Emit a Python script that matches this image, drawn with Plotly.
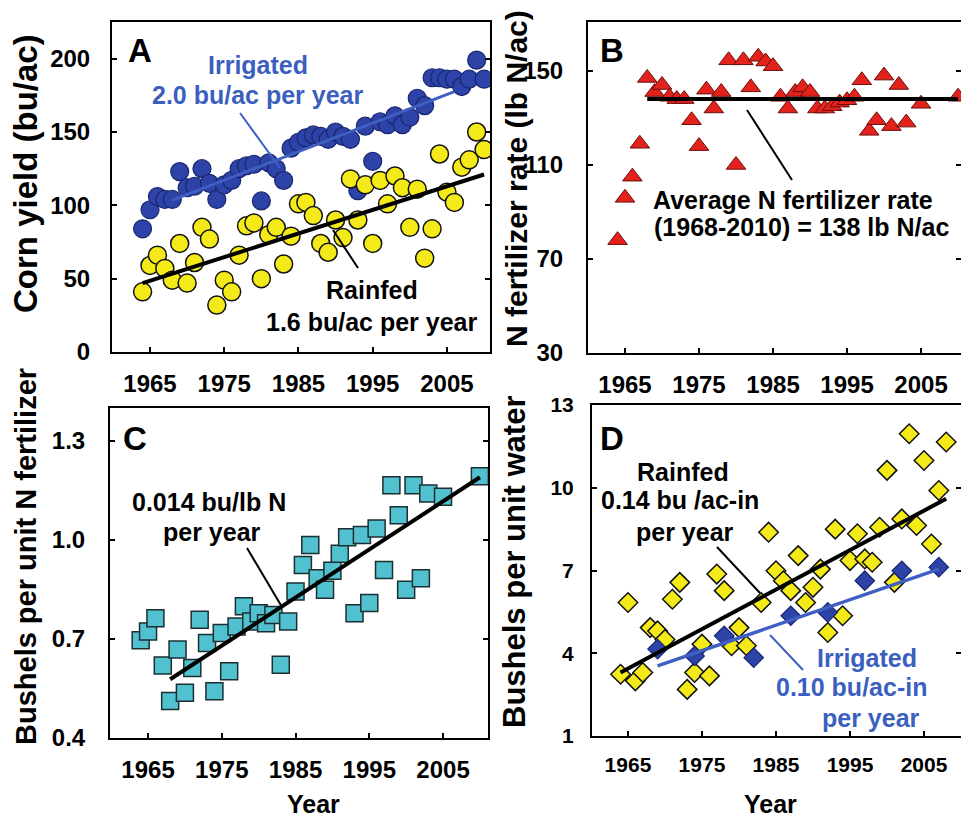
import plotly.graph_objects as go

W, H = 961, 820

# ---------------- data ----------------
years_a = list(range(1964, 2011))
irrigated_yield = [84, 97, 106, 104, 104, 123, 112, 113, 125, 115, 104, 114, 117, 125, 127, 128,
                   103, 129, 125, 117, 139, 143, 146, 148, 147, 145, 150, 147, 145, 110, 154, 130,
                   157, 155, 161, 155, 160, 173, 168, 187, 187, 186, 186, 181, 186, 199, 186]
rainfed_yield = [41, 59, 66, 57, 49, 74, 47, 61, 85, 77, 32, 49, 41, 66, 86, 88,
                 50, 80, 85, 60, 79, 101, 102, 93, 74, 68, 90, 78, 118, 90, 114, 74,
                 117, 101, 120, 112, 85, 111, 64, 84, 135, 109, 102, 126, 131, 150, 138]
irr_trend_years = [1968, 2006]
irr_trend_vals = [103.5, 177.5]
rain_trend_years = [1964, 2010]
rain_trend_vals = [47, 121]

years_bc = list(range(1964, 2004)) + [2005, 2010]
n_rate = [78, 96, 105, 119, 147, 141, 144, 139, 138, 138, 129, 118, 142, 134, 141, 154.5,
          110, 154.5, 143, 156, 154, 152, 139, 134, 141, 143, 141, 134, 134, 135, 136.5, 137.5,
          139, 146, 124.5, 129, 148, 126.5, 144, 128, 136, 139]
n_mean_years = [1968, 2010]
n_mean_vals = [138, 138]

bu_per_n = [0.696, 0.723, 0.763, 0.620, 0.512, 0.668, 0.537, 0.612, 0.758, 0.688, 0.542, 0.718,
            0.602, 0.738, 0.799, 0.753, 0.778, 0.748, 0.773, 0.622, 0.753, 0.844, 0.924, 0.985,
            0.884, 0.849, 0.907, 0.958, 1.008, 0.778, 1.015, 0.809, 1.035, 0.909, 1.166, 1.075,
            0.849, 1.166, 0.884, 1.141, 1.131, 1.193]
npe_trend_years = [1968, 2010]
npe_trend_vals = [0.578, 1.19]

years_d_rain = list(range(1964, 1982)) + list(range(1983, 2009))
wue_rainfed = [3.24, 5.84, 3.0, 3.3, 4.93, 4.81, 4.5, 5.96, 6.57, 2.69, 3.3, 4.33, 3.18, 6.87,
               6.27, 4.27, 4.93, 4.27,
               5.84, 8.39, 6.99, 6.63, 6.27, 7.54, 5.84, 6.39, 7.05, 4.75, 8.5, 5.36, 7.36, 8.33,
               7.42, 7.30, 8.57, 10.63, 6.57, 8.87, 11.96, 8.63, 10.99, 7.96, 9.9, 11.66]
years_d_irr = [1969, 1974, 1978, 1982, 1987, 1992, 1997, 2002, 2007]
wue_irrigated = [4.15, 3.9, 4.63, 3.84, 5.36, 5.48, 6.63, 6.99, 7.12]
wue_rain_trend_years = [1964, 2008]
wue_rain_trend_vals = [3.3, 9.6]
wue_irr_trend_years = [1969, 2007]
wue_irr_trend_vals = [3.54, 7.05]

year_ticks = [1965, 1975, 1985, 1995, 2005]

# ---------------- styles ----------------
FONT = "Liberation Sans, Arial, sans-serif"
BLUE = "#2d43a8"
BLUE_TXT = "#3b5fbf"
YELLOW = "#f4ea1a"
RED = "#e3221c"
CYAN = "#52c1cf"


def px(x):
    return x / W


def py(y):
    return 1 - y / H


fig = go.Figure()

# Panel A
fig.add_trace(go.Scatter(x=years_a, y=irrigated_yield, mode="markers", xaxis="x", yaxis="y",
                         marker=dict(size=18, color=BLUE, line=dict(color="#1a2670", width=1.2))))
fig.add_trace(go.Scatter(x=irr_trend_years, y=irr_trend_vals, mode="lines", xaxis="x", yaxis="y",
                         line=dict(color="#3f5fc2", width=3)))
fig.add_trace(go.Scatter(x=years_a, y=rainfed_yield, mode="markers", xaxis="x", yaxis="y",
                         marker=dict(size=18, color=YELLOW, line=dict(color="#111", width=1.5))))
fig.add_trace(go.Scatter(x=rain_trend_years, y=rain_trend_vals, mode="lines", xaxis="x", yaxis="y",
                         line=dict(color="black", width=4)))

# Panel B
fig.add_trace(go.Scatter(x=years_bc, y=n_rate, mode="markers", xaxis="x2", yaxis="y2",
                         marker=dict(symbol="triangle-up", size=17, color=RED,
                                     line=dict(color="#6b0e0e", width=1))))
fig.add_trace(go.Scatter(x=n_mean_years, y=n_mean_vals, mode="lines", xaxis="x2", yaxis="y2",
                         line=dict(color="black", width=4)))

# Panel C
fig.add_trace(go.Scatter(x=years_bc, y=bu_per_n, mode="markers", xaxis="x3", yaxis="y3",
                         marker=dict(symbol="square", size=17, color=CYAN,
                                     line=dict(color="#1b2f33", width=1.5))))
fig.add_trace(go.Scatter(x=npe_trend_years, y=npe_trend_vals, mode="lines", xaxis="x3", yaxis="y3",
                         line=dict(color="black", width=4)))

# Panel D
fig.add_trace(go.Scatter(x=years_d_rain, y=wue_rainfed, mode="markers", xaxis="x4", yaxis="y4",
                         marker=dict(symbol="diamond", size=15, color=YELLOW,
                                     line=dict(color="#111", width=1.5))))
fig.add_trace(go.Scatter(x=years_d_irr, y=wue_irrigated, mode="markers", xaxis="x4", yaxis="y4",
                         marker=dict(symbol="diamond", size=15, color=BLUE,
                                     line=dict(color="#1a2670", width=1.2))))
fig.add_trace(go.Scatter(x=wue_rain_trend_years, y=wue_rain_trend_vals, mode="lines", xaxis="x4",
                         yaxis="y4", line=dict(color="black", width=4)))
fig.add_trace(go.Scatter(x=wue_irr_trend_years, y=wue_irr_trend_vals, mode="lines", xaxis="x4",
                         yaxis="y4", line=dict(color="#3f5fc2", width=3.5)))


def xaxis(dom, rng, anchor, size=24, standoff=9):
    return dict(domain=[px(dom[0]), px(dom[1])], range=rng, anchor=anchor, automargin=False,
                tickvals=year_ticks, ticks="inside", ticklen=5, tickwidth=1.5, tickcolor="black",
                showline=True, linecolor="black", linewidth=2, mirror=True,
                showgrid=False, zeroline=False, ticklabelstandoff=standoff,
                tickfont=dict(family=FONT, size=size, color="black", weight="bold"))


def yaxis(dom, rng, anchor, tickvals, ticktext, size=24, standoff=15):
    return dict(domain=[py(dom[1]), py(dom[0])], range=rng, anchor=anchor, automargin=False,
                tickvals=tickvals, ticktext=ticktext, ticks="inside", ticklen=5, tickwidth=1.5,
                tickcolor="black", showline=True, linecolor="black", linewidth=2, mirror="ticks",
                showgrid=False, zeroline=False, ticklabelstandoff=standoff,
                tickfont=dict(family=FONT, size=size, color="black", weight="bold"))


a_yt = [0, 50, 100, 150, 200]
b_yt = [30, 70, 110, 150]
c_yt = [0.4, 0.7, 1.0, 1.3]
d_yt = [1, 4, 7, 10, 13]

fig.update_layout(
    width=W, height=H, margin=dict(l=0, r=0, t=0, b=0, pad=0, autoexpand=False),
    paper_bgcolor="white", plot_bgcolor="white", showlegend=False,
    xaxis=xaxis((112, 490), [1959.88, 2010.8], "y", standoff=9),
    yaxis=yaxis((22, 352), [0, 225], "x", a_yt, [str(v) for v in a_yt], standoff=15),
    xaxis2=xaxis((588, 961), [1960.0, 2010.4], "y2", standoff=9),
    yaxis2=yaxis((22, 353), [30, 170.8], "x2", b_yt, [str(v) for v in b_yt], standoff=18),
    xaxis3=xaxis((110, 488), [1959.84, 2011.1], "y3", standoff=9),
    yaxis3=yaxis((408, 738), [0.4, 1.4], "x3", c_yt, ["%.1f" % v for v in c_yt], standoff=18),
    xaxis4=xaxis((592, 961), [1960.14, 2010.0], "y4", size=21, standoff=9),
    yaxis4=yaxis((405, 736), [1, 13], "x4", d_yt, [str(v) for v in d_yt], size=21, standoff=12),
)

annotations = []


def txt(x, y, s, size=25, color="black", angle=0):
    annotations.append(dict(x=px(x), y=py(y), xref="paper", yref="paper", text=s,
                            showarrow=False, xanchor="center", yanchor="middle", textangle=angle,
                            borderpad=0,
                            font=dict(family=FONT, size=size, color=color, weight="bold")))


# panel letters
txt(140, 50, "A", size=33)
txt(612, 50, "B", size=33)
txt(135, 438, "C", size=33)
txt(612, 438, "D", size=33)

# axis titles
txt(26, 174, "Corn yield (bu/ac)", size=33, angle=-90)
txt(517, 179, "N fertilizer rate (lb N/ac)", size=30, angle=-90)
txt(26, 557, "Bushels per unit N fertilizer", size=29, angle=-90)
txt(514, 562, "Bushels per unit water", size=31, angle=-90)
txt(313, 804, "Year", size=25)
txt(770, 804, "Year", size=25)

# panel A labels
txt(258, 65, "Irrigated", color=BLUE_TXT)
txt(258, 95, "2.0 bu/ac per year", color=BLUE_TXT)
txt(372, 290, "Rainfed")
txt(372, 322, "1.6 bu/ac per year")
# panel B labels
txt(793, 200, "Average N fertilizer rate")
txt(801, 227, "(1968-2010) = 138 lb N/ac")
# panel C labels
txt(209, 502, "0.014 bu/lb N")
txt(212, 532, "per year")
# panel D labels
txt(683, 472, "Rainfed")
txt(680, 500, "0.14 bu /ac-in")
txt(685, 532, "per year")
txt(867, 658, "Irrigated", color=BLUE_TXT)
txt(851, 687, "0.10 bu/ac-in", color=BLUE_TXT)
txt(871, 718, "per year", color=BLUE_TXT)

fig.update_layout(annotations=annotations)

shapes = []


def leader(x0, y0, x1, y1, color="black", width=2):
    shapes.append(dict(type="line", xref="paper", yref="paper", x0=px(x0), y0=py(y0),
                       x1=px(x1), y1=py(y1), line=dict(color=color, width=width)))


leader(240, 113, 280, 168, color="#3f5fc2")
leader(333, 230, 358, 268)
leader(747, 110, 792, 180)
leader(247, 548, 282, 607)
leader(717, 547, 760, 593)
leader(770, 635, 803, 670, color="#3f5fc2")

fig.update_layout(shapes=shapes)

fig.write_html("out.html", config={"displayModeBar": False},
               post_script="document.body.style.margin='0px';document.body.style.padding='0px';")
